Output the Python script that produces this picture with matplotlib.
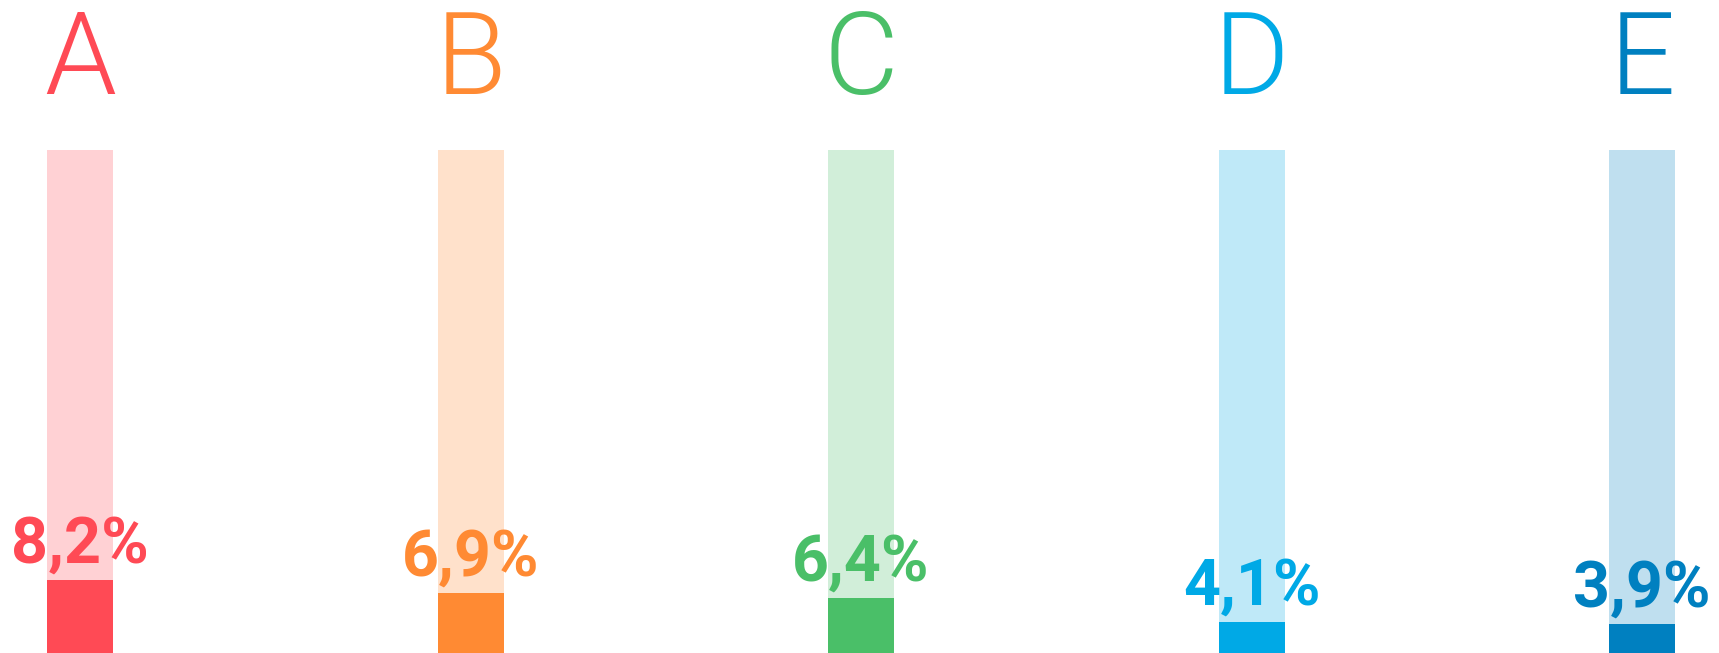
import matplotlib.pyplot as plt
from matplotlib.transforms import blended_transform_factory

categories = ["A", "B", "C", "D", "E"]
values = [8.2, 6.9, 6.4, 4.1, 3.9]
full_scale = 50
colors = ["#ff4a55", "#ff8a33", "#4abf68", "#00a9e6", "#0080c0"]

W, H, DPI = 1719, 653, 100
fig = plt.figure(figsize=(W / DPI, H / DPI), dpi=DPI, facecolor="white")
ax = fig.add_axes([0, 0, 1, 1])
ax.set_axis_off()

# pixel geometry of the reference: bar spacing ~390.5px, zero sits below the canvas
step_px = 390.5
first_px = 80
px_per_unit = 10.28
zero_px = 664  # from top

ax.set_xlim(-first_px / step_px, (W - first_px) / step_px)
ax.set_ylim((zero_px - H) / px_per_unit, zero_px / px_per_unit)

xs = list(range(len(categories)))
width = 66 / step_px

ax.bar(xs, [full_scale] * len(xs), width=width, color=colors, alpha=0.25,
       linewidth=0)
ax.bar(xs, values, width=width, color=colors, linewidth=0)

trans = blended_transform_factory(ax.transData, ax.transAxes)
for x, cat, val, c in zip(xs, categories, values, colors):
    ax.text(x, 1 - 94 / H, cat, transform=trans, ha="center", va="baseline",
            color=c, fontsize=83, family="Roboto", fontweight=300)
    label = f"{val:.1f}".replace(".", ",") + "%"
    ax.annotate(label, (x, val), xytext=(0, 12.5), textcoords="offset points",
                ha="center", va="baseline", color=c, fontsize=46.5,
                family="Roboto", fontweight="bold")

fig.savefig("out.png", dpi=DPI, facecolor="white")
